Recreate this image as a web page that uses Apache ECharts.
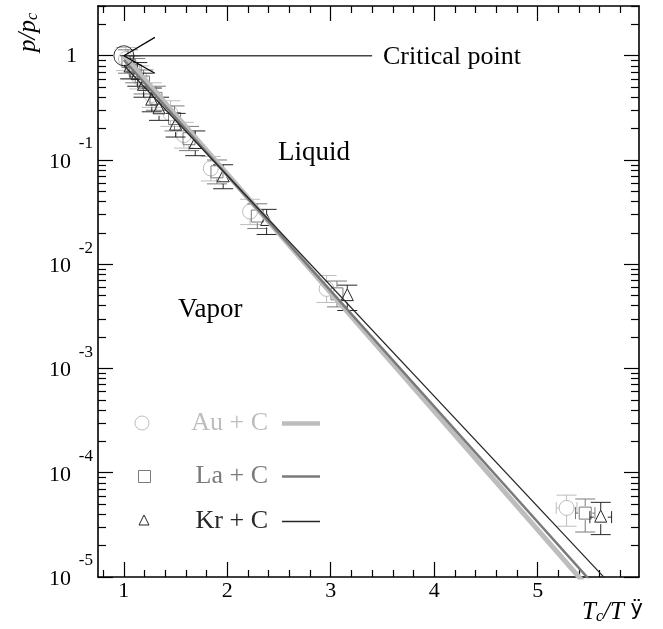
<!DOCTYPE html>
<html>
<head>
<meta charset="utf-8">
<script src="https://cdn.jsdelivr.net/npm/echarts@6/dist/echarts.min.js"></script>
<style>
  html, body { margin: 0; padding: 0; background: #fff; }
  #main { width: 663px; height: 629px; }
</style>
</head>
<body>
<div id="main"></div>
<script>
// data: Tc/T on x, p/pc on y (log)
var auX = [1.02, 1.08, 1.15, 1.27, 1.45, 1.58, 1.84, 2.22, 2.96, 5.28];
var auY = [0.93, 0.78, 0.62, 0.42, 0.28, 0.173, 0.083, 0.032, 0.0058, 4.6e-5];
var auLo = [0.72, 0.60, 0.48, 0.32, 0.21, 0.13, 0.063, 0.024, 0.0043, 3.07e-5];
var auHi = [1.2, 1.0, 0.8, 0.55, 0.37, 0.23, 0.108, 0.042, 0.0078, 6.1e-5];
var auXErr = [0, 0, 0, 0, 0, 0, 0, 0, 0, 0.1];

var laX = [1.04, 1.11, 1.19, 1.31, 1.49, 1.63, 1.90, 2.29, 3.06, 5.46];
var laY = [0.88, 0.72, 0.56, 0.39, 0.25, 0.16, 0.077, 0.029, 0.0052, 4.1e-5];
var laLo = [0.68, 0.55, 0.43, 0.30, 0.19, 0.123, 0.059, 0.022, 0.0039, 2.7e-5];
var laHi = [1.14, 0.94, 0.73, 0.51, 0.33, 0.21, 0.10, 0.038, 0.0069, 5.6e-5];
var laXErr = [0, 0, 0, 0, 0, 0, 0, 0, 0, 0.094];

var krX = [1.06, 1.13, 1.19, 1.27, 1.34, 1.50, 1.69, 1.96, 2.38, 3.16, 5.61];
var krY = [0.78, 0.66, 0.52, 0.375, 0.31, 0.216, 0.144, 0.069, 0.0263, 0.005, 3.75e-5];
var krLo = [0.60, 0.51, 0.40, 0.29, 0.24, 0.166, 0.11, 0.053, 0.0193, 0.0036, 2.55e-5];
var krHi = [1.0, 0.86, 0.68, 0.49, 0.40, 0.28, 0.19, 0.09, 0.0336, 0.0063, 5.2e-5];
var krXErr = [0, 0, 0, 0, 0, 0, 0, 0, 0, 0, 0.105];

// fitted lines (start / end points)
var auFit = [[1.0, 1.0], [5.9, 2.7e-6]];
var laFit = [[1.0, 0.91], [5.9, 3.4e-6]];
var krFit = [[1.0, 0.81], [5.9, 5.3e-6]];

// critical point marks
var critPoint = [[1, 1]];
var critLine = [[1, 1], [3.4, 1]];
var critArrow = [[1.3, 1.5], [1, 1], [1.3, 0.68]];

// axis ticks
var xMajorTicks = [1, 2, 3, 4, 5];
var xMinorTicks = [0.8, 1.2, 1.4, 1.6, 1.8, 2.2, 2.4, 2.6, 2.8, 3.2, 3.4, 3.6, 3.8,
  4.2, 4.4, 4.6, 4.8, 5.2, 5.4, 5.6, 5.8];
var yMajorTicks = [1e-5, 1e-4, 1e-3, 1e-2, 1e-1, 1];
var yMinorMult = [2, 3, 4, 5, 6, 7, 8, 9];
var yMinorTicks = [];
for (var d = 0; d < yMajorTicks.length; d++) {
  for (var m = 0; m < yMinorMult.length; m++) {
    var t = yMajorTicks[d] * yMinorMult[m];
    if (t <= 3) yMinorTicks.push(t);
  }
}

var SERIF = 'Liberation Serif';
var AU_COLOR = '#bdbdbd';
var LA_COLOR = '#7a7a7a';
var KR_COLOR = '#262626';

function rows(x, y, lo, hi, xe) {
  var out = [];
  for (var i = 0; i < x.length; i++) {
    out.push([x[i], y[i], lo[i], hi[i], xe[i]]);
  }
  return out;
}

function errRender(shape, color) {
  return function(params, api) {
    var x = api.value(0), y = api.value(1);
    var c = api.coord([x, y]);
    var pHi = api.coord([x, api.value(3)]);
    var pLo = api.coord([x, api.value(2)]);
    var xe = api.value(4);
    var r = 7, w = 10;
    var st = { stroke: color, lineWidth: 1, fill: null };
    var kids = [];
    function ln(x1, y1, x2, y2) {
      kids.push({ type: 'line', shape: { x1: x1, y1: y1, x2: x2, y2: y2 }, style: st });
    }
    if (pHi[1] < c[1] - r) ln(c[0], pHi[1], c[0], c[1] - r);
    if (pLo[1] > c[1] + r) ln(c[0], c[1] + r, c[0], pLo[1]);
    ln(c[0] - w, pHi[1], c[0] + w, pHi[1]);
    ln(c[0] - w, pLo[1], c[0] + w, pLo[1]);
    if (xe > 0) {
      var pL = api.coord([x - xe, y]);
      var pR = api.coord([x + xe, y]);
      ln(pL[0], c[1], c[0] - r, c[1]);
      ln(c[0] + r, c[1], pR[0], c[1]);
      ln(pL[0], c[1] - 6, pL[0], c[1] + 6);
      ln(pR[0], c[1] - 6, pR[0], c[1] + 6);
    }
    if (shape === 'circle') {
      kids.push({ type: 'circle', shape: { cx: c[0], cy: c[1], r: 7.5 }, style: st });
    } else if (shape === 'square') {
      kids.push({ type: 'rect', shape: { x: c[0] - 6, y: c[1] - 6, width: 12, height: 12 }, style: st });
    } else {
      kids.push({ type: 'polygon', shape: { points: [[c[0], c[1] - 7], [c[0] - 6, c[1] + 5], [c[0] + 6, c[1] + 5]] }, style: st });
    }
    return { type: 'group', children: kids };
  };
}

function xAxisDef(pos, ticks, len, showLine, showLabel) {
  return {
    type: 'value', position: pos, min: 0.75, max: 5.98,
    axisLine: { show: showLine, onZero: false, lineStyle: { color: '#000', width: 1.6 } },
    axisTick: { show: true, inside: true, length: len, customValues: ticks, lineStyle: { color: '#000', width: 1.2 } },
    axisLabel: {
      show: showLabel, customValues: ticks, margin: 3,
      fontFamily: SERIF, fontSize: 22, lineHeight: 22, color: '#000'
    },
    splitLine: { show: false }
  };
}

function yAxisDef(pos, ticks, len, showLine, showLabel) {
  return {
    type: 'log', logBase: 10, position: pos, min: 1e-5, max: 3,
    axisLine: { show: showLine, onZero: false, lineStyle: { color: '#000', width: 1.6 } },
    axisTick: { show: true, inside: true, length: len, customValues: ticks, lineStyle: { color: '#000', width: 1.2 } },
    axisLabel: {
      show: showLabel, customValues: ticks, margin: 5,
      color: '#000', fontFamily: SERIF,
      formatter: function(v) {
        if (Math.abs(v - 1) < 1e-9) return '{one|1}';
        var e = Math.round(Math.log(v) / Math.LN10);
        // exponent on a short first line, "10" below it, spacer line last
        return '{s|' + e + '}\n{b|10}\n{sp| }';
      },
      rich: {
        s: { fontFamily: SERIF, fontSize: 17, lineHeight: 14, align: 'right', color: '#000' },
        b: { fontFamily: SERIF, fontSize: 22, lineHeight: 22, padding: [0, 22, 0, 0], color: '#000' },
        sp: { fontSize: 1, lineHeight: 10 },
        one: { fontFamily: SERIF, fontSize: 22, lineHeight: 22, padding: [0, 16, 0, 0], color: '#000' }
      }
    },
    splitLine: { show: false }
  };
}

function fitLine(name, data, color, width) {
  return {
    name: name, type: 'line', data: data, xAxisIndex: 0, yAxisIndex: 0,
    symbol: 'none', clip: true, z: 5,
    lineStyle: { color: color, width: width }
  };
}

function legendRow(y, shape, label, color, lw) {
  var marker;
  if (shape === 'circle') {
    marker = { type: 'circle', shape: { cx: 142, cy: y, r: 7 }, style: { stroke: color, fill: null, lineWidth: 1 } };
  } else if (shape === 'square') {
    marker = { type: 'rect', shape: { x: 138.5, y: y - 5.5, width: 12, height: 12 }, style: { stroke: color, fill: null, lineWidth: 1 } };
  } else {
    marker = { type: 'polygon', shape: { points: [[144, y - 6], [139, y + 4], [149, y + 4]] }, style: { stroke: color, fill: null, lineWidth: 1 } };
  }
  return [
    marker,
    { type: 'text', x: 268, y: y, style: { text: label, font: '26px ' + SERIF, fill: color, align: 'right', verticalAlign: 'middle' } },
    { type: 'line', shape: { x1: 282, y1: y + 0.5, x2: 320, y2: y + 0.5 }, style: { stroke: color, lineWidth: lw } }
  ];
}

var chart = echarts.init(document.getElementById('main'), null, { renderer: 'canvas' });

var graphics = [
  { type: 'text', x: 383, y: 57, style: { text: 'Critical point', font: '26px ' + SERIF, fill: '#000', verticalAlign: 'middle' } },
  { type: 'text', x: 278, y: 153, style: { text: 'Liquid', font: '27px ' + SERIF, fill: '#000', verticalAlign: 'middle' } },
  { type: 'text', x: 178, y: 310, style: { text: 'Vapor', font: '27px ' + SERIF, fill: '#000', verticalAlign: 'middle' } },
  {
    type: 'text', x: 28, y: 52, rotation: Math.PI / 2,
    style: {
      text: '{i|p/p}{c|c}', align: 'left', verticalAlign: 'middle',
      rich: {
        i: { fontFamily: SERIF, fontStyle: 'italic', fontSize: 25, lineHeight: 25, verticalAlign: 'top', fill: '#000' },
        c: { fontFamily: SERIF, fontStyle: 'italic', fontSize: 16, lineHeight: 16, padding: [14, 0, 0, 0], verticalAlign: 'bottom', fill: '#000' }
      }
    }
  },
  {
    type: 'text', x: 582, y: 612,
    style: {
      text: '{i|T}{c|c}{i|/T}{n| ÿ}', align: 'left', verticalAlign: 'middle',
      rich: {
        i: { fontFamily: SERIF, fontStyle: 'italic', fontSize: 25, lineHeight: 25, verticalAlign: 'top', fill: '#000' },
        c: { fontFamily: SERIF, fontStyle: 'italic', fontSize: 16, lineHeight: 16, padding: [14, 0, 0, 0], verticalAlign: 'bottom', fill: '#000' },
        n: { fontFamily: 'DejaVu Sans', fontSize: 21, lineHeight: 25, verticalAlign: 'top', fill: '#000' }
      }
    }
  }
]
  .concat(legendRow(423, 'circle', 'Au + C', AU_COLOR, 4.5))
  .concat(legendRow(476, 'square', 'La + C', LA_COLOR, 2.5))
  .concat(legendRow(521, 'triangle', 'Kr + C', KR_COLOR, 1.3));

var option = {
  animation: false,
  backgroundColor: '#fff',
  grid: { left: 98, right: 24, top: 6, bottom: 52, containLabel: false, outerBoundsMode: 'none' },
  xAxis: [
    xAxisDef('bottom', xMajorTicks, 15, true, true),
    xAxisDef('bottom', xMinorTicks, 7, false, false),
    xAxisDef('top', xMajorTicks, 15, true, false),
    xAxisDef('top', xMinorTicks, 7, false, false)
  ],
  yAxis: [
    yAxisDef('left', yMajorTicks, 15, true, true),
    yAxisDef('left', yMinorTicks, 8, false, false),
    yAxisDef('right', yMajorTicks, 15, true, false),
    yAxisDef('right', yMinorTicks, 8, false, false)
  ],
  series: [
    {
      name: 'Au + C', type: 'custom', xAxisIndex: 0, yAxisIndex: 0, z: 3,
      renderItem: errRender('circle', AU_COLOR), data: rows(auX, auY, auLo, auHi, auXErr)
    },
    {
      name: 'La + C', type: 'custom', xAxisIndex: 0, yAxisIndex: 0, z: 3,
      renderItem: errRender('square', LA_COLOR), data: rows(laX, laY, laLo, laHi, laXErr)
    },
    {
      name: 'Kr + C', type: 'custom', xAxisIndex: 0, yAxisIndex: 0, z: 3,
      renderItem: errRender('triangle', KR_COLOR), data: rows(krX, krY, krLo, krHi, krXErr)
    },
    fitLine('Au fit', auFit, AU_COLOR, 5),
    fitLine('La fit', laFit, LA_COLOR, 2.5),
    fitLine('Kr fit', krFit, KR_COLOR, 1.2),
    {
      name: 'critical line', type: 'line', data: critLine, symbol: 'none',
      lineStyle: { color: '#444', width: 1.6 }, z: 6
    },
    {
      name: 'critical arrow', type: 'line', data: critArrow, symbol: 'none',
      lineStyle: { color: '#000', width: 1.2 }, z: 6
    },
    {
      name: 'critical point', type: 'scatter', data: critPoint, symbol: 'circle', symbolSize: 20,
      itemStyle: { color: 'rgba(0,0,0,0)', borderColor: '#000', borderWidth: 1 }, z: 7
    }
  ],
  graphic: graphics
};

chart.setOption(option);
</script>
</body>
</html>
